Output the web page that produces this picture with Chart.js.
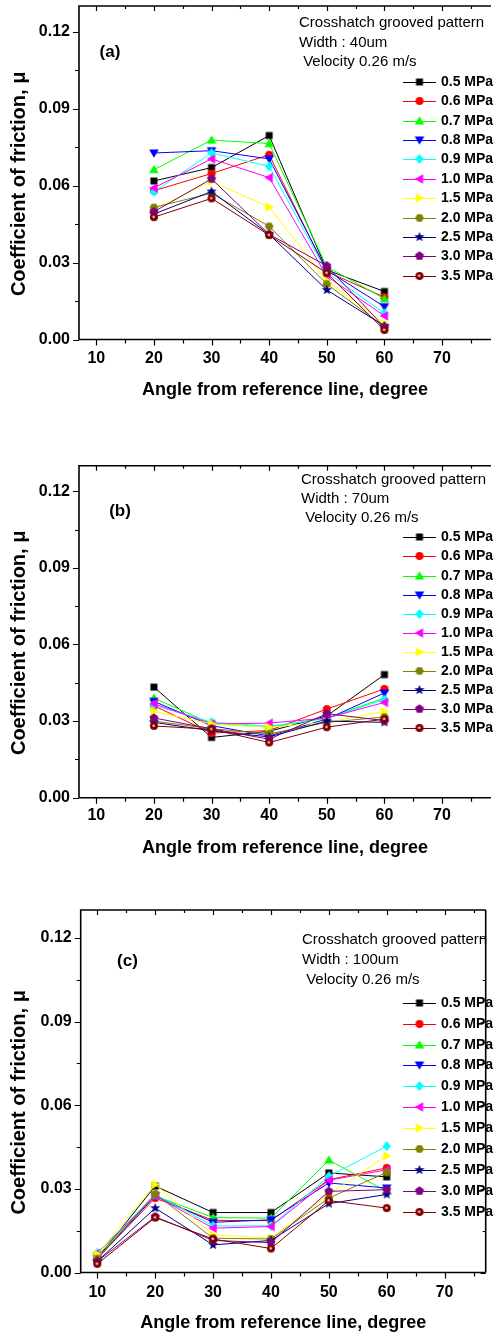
<!DOCTYPE html>
<html>
<head>
<meta charset="utf-8">
<script src="https://cdn.jsdelivr.net/npm/chart.js@4.4.0/dist/chart.umd.min.js"></script>
<style>
  html, body { margin: 0; padding: 0; background: #fff; }
  body { width: 496px; height: 1340px; position: relative; overflow: hidden; }
  canvas { position: absolute; left: 0; }
</style>
</head>
<body>
<canvas id="chartA"></canvas>
<canvas id="chartB"></canvas>
<canvas id="chartC"></canvas>
<script>
// x values, degree from reference line
var anglesAB = [20, 30, 40, 50, 60];
var anglesC  = [10, 20, 30, 40, 50, 60];

// labelled ticks
var xTicks = [10, 20, 30, 40, 50, 60, 70];
var yTicks = [0, 0.03, 0.06, 0.09, 0.12];

var pressures = ['0.5 MPa', '0.6 MPa', '0.7 MPa', '0.8 MPa', '0.9 MPa', '1.0 MPa',
                 '1.5 MPa', '2.0 MPa', '2.5 MPa', '3.0 MPa', '3.5 MPa'];
var colors = ['#000000', '#ff0000', '#00ff00', '#0000ff', '#00ffff', '#ff00ff',
              '#ffff00', '#808000', '#000080', '#800080', '#800000'];
var shapes = ['square', 'circle', 'up', 'down', 'diamond', 'left',
              'right', 'hexagon', 'star', 'pentagon', 'ball'];

// coefficient of friction, one row per pressure (same order as above)
// (a) width 40um
var muA = [
  [0.0618, 0.0670, 0.0795, 0.0271, 0.0187],
  [0.0580, 0.0647, 0.0720, 0.0265, 0.0165],
  [0.0662, 0.0777, 0.0764, 0.0284, 0.0159],
  [0.0727, 0.0736, 0.0704, 0.0270, 0.0128],
  [0.0576, 0.0727, 0.0675, 0.0262, 0.0102],
  [0.0591, 0.0704, 0.0631, 0.0247, 0.0092],
  [0.0507, 0.0617, 0.0516, 0.0230, 0.0063],
  [0.0515, 0.0570, 0.0441, 0.0216, 0.0050],
  [0.0489, 0.0577, 0.0410, 0.0193, 0.0053],
  [0.0498, 0.0626, 0.0410, 0.0287, 0.0048],
  [0.0477, 0.0550, 0.0407, 0.0259, 0.0037]
];
// (b) width 70um
var muB = [
  [0.0433, 0.0236, 0.0260, 0.0320, 0.0482],
  [0.0360, 0.0253, 0.0263, 0.0347, 0.0426],
  [0.0390, 0.0290, 0.0277, 0.0312, 0.0390],
  [0.0377, 0.0282, 0.0242, 0.0308, 0.0410],
  [0.0362, 0.0296, 0.0280, 0.0310, 0.0384],
  [0.0368, 0.0289, 0.0292, 0.0312, 0.0373],
  [0.0338, 0.0289, 0.0276, 0.0295, 0.0338],
  [0.0300, 0.0270, 0.0250, 0.0295, 0.0316],
  [0.0295, 0.0262, 0.0238, 0.0300, 0.0295],
  [0.0312, 0.0270, 0.0229, 0.0329, 0.0302],
  [0.0281, 0.0268, 0.0216, 0.0276, 0.0308]
];
// (c) width 100um
var muC = [
  [0.0050, 0.0310, 0.0215, 0.0215, 0.0357, 0.0343],
  [0.0050, 0.0267, 0.0187, 0.0186, 0.0333, 0.0375],
  [0.0060, 0.0275, 0.0197, 0.0195, 0.0403, 0.0291],
  [0.0050, 0.0275, 0.0180, 0.0189, 0.0321, 0.0303],
  [0.0071, 0.0280, 0.0167, 0.0167, 0.0345, 0.0453],
  [0.0069, 0.0275, 0.0159, 0.0165, 0.0331, 0.0368],
  [0.0065, 0.0316, 0.0135, 0.0123, 0.0279, 0.0419],
  [0.0050, 0.0282, 0.0123, 0.0120, 0.0267, 0.0359],
  [0.0040, 0.0231, 0.0099, 0.0115, 0.0247, 0.0280],
  [0.0040, 0.0200, 0.0115, 0.0107, 0.0291, 0.0297],
  [0.0031, 0.0197, 0.0120, 0.0086, 0.0258, 0.0231]
];

var FONT = "'Liberation Sans', Arial, Helvetica, sans-serif";
Chart.defaults.font.family = FONT;
Chart.defaults.color = '#000';

// Origin style symbols as small canvases, used as pointStyle
function markerImage(shape, color) {
  var c = document.createElement('canvas');
  c.width = 12; c.height = 12;
  var g = c.getContext('2d');
  g.translate(6, 6);
  g.fillStyle = color;
  g.beginPath();
  function poly(pts) {
    pts.forEach(function (pt, k) { k ? g.lineTo(pt[0], pt[1]) : g.moveTo(pt[0], pt[1]); });
    g.closePath();
  }
  function ngon(n, r, a0) {
    var pts = [];
    for (var k = 0; k < n; k++) {
      var t = a0 + k * 2 * Math.PI / n;
      pts.push([r * Math.cos(t), r * Math.sin(t)]);
    }
    poly(pts);
  }
  if (shape === 'square') g.rect(-3.5, -3.5, 7, 7);
  else if (shape === 'circle' || shape === 'ball') g.arc(0, 0, 4, 0, 2 * Math.PI);
  else if (shape === 'up') poly([[0, -4.8], [4.8, 3.6], [-4.8, 3.6]]);
  else if (shape === 'down') poly([[0, 4.8], [4.8, -3.6], [-4.8, -3.6]]);
  else if (shape === 'left') poly([[-4.8, 0], [3.6, -4.8], [3.6, 4.8]]);
  else if (shape === 'right') poly([[4.8, 0], [-3.6, -4.8], [-3.6, 4.8]]);
  else if (shape === 'diamond') poly([[0, -5], [4.3, 0], [0, 5], [-4.3, 0]]);
  else if (shape === 'hexagon') ngon(6, 4.4, 0);
  else if (shape === 'pentagon') ngon(5, 4.7, -Math.PI / 2);
  else if (shape === 'star') {
    var pts = [];
    for (var k = 0; k < 10; k++) {
      var r = k % 2 ? 2.2 : 5.3, t = -Math.PI / 2 + k * Math.PI / 5;
      pts.push([r * Math.cos(t), r * Math.sin(t)]);
    }
    poly(pts);
  }
  g.fill();
  if (shape === 'ball') {
    g.fillStyle = '#f0c8c8';
    g.beginPath();
    g.arc(-0.3, -0.3, 1.3, 0, 2 * Math.PI);
    g.fill();
  }
  return c;
}

var panels = [
  { canvas: 'chartA', tag: '(a)', width: 'Width : 40um', xs: anglesAB, mu: muA,
    top: 0, height: 407, plotTop: 6, plotBottom: 339.5, left: 79, right: 496,
    xMin: 7, xMax: 78.5, box: false, tickPad: 9,
    tagX: 110, tagY: 52, notesX: 299, notesY: [23.3, 43.3, 62.3], legendY: 81.7, legendStep: 19.4 },
  { canvas: 'chartB', tag: '(b)', width: 'Width : 70um', xs: anglesAB, mu: muB,
    top: 460, height: 405, plotTop: 465.7, plotBottom: 797.7, left: 79, right: 496,
    xMin: 7, xMax: 78.5, box: false, tickPad: 8.5,
    tagX: 120, tagY: 511.5, notesX: 301, notesY: [480, 499.3, 517.7], legendY: 537.3, legendStep: 19.1 },
  { canvas: 'chartC', tag: '(c)', width: 'Width : 100um', xs: anglesC, mu: muC,
    top: 904, height: 436, plotTop: 910, plotBottom: 1272.5, left: 80.7, right: 485.7,
    xMin: 7.13, xMax: 77.1, box: true, tickPad: 10.5,
    tagX: 127.5, tagY: 961, notesX: 302, notesY: [940, 960, 980], legendY: 1002.7, legendStep: 20.9 }
];

// frame, minor ticks, panel tag, notes and legend
function decor(p) {
  return {
    id: 'decor',
    afterDraw: function (chart) {
      var ctx = chart.ctx, a = chart.chartArea, xs = chart.scales.x, ys = chart.scales.y;
      var off = p.top;
      ctx.save();
      ctx.strokeStyle = '#000';
      ctx.lineWidth = 1.6;
      ctx.beginPath();
      ctx.moveTo(a.right, a.top); ctx.lineTo(a.left, a.top);
      ctx.lineTo(a.left, a.bottom); ctx.lineTo(a.right, a.bottom);
      if (p.box) { ctx.moveTo(a.right, a.top); ctx.lineTo(a.right, a.bottom); }
      ctx.stroke();

      ctx.lineWidth = 1.2;
      ctx.beginPath();
      for (var v = 10; v <= p.xMax; v += 5) {
        var px = Math.round(xs.getPixelForValue(v)) + 0.5;
        var major = v % 10 === 0;
        ctx.moveTo(px, a.bottom); ctx.lineTo(px, a.bottom + (major ? 6 : 4));
        ctx.moveTo(px, a.top); ctx.lineTo(px, a.top + (major ? 5 : 3));
      }
      for (var k = 0; k * 0.015 <= 0.13; k++) {
        var py = Math.round(ys.getPixelForValue(k * 0.015)) + 0.5;
        ctx.moveTo(a.left, py); ctx.lineTo(a.left - (k % 2 ? 4 : 6), py);
        if (p.box) { ctx.moveTo(a.right, py); ctx.lineTo(a.right - (k % 2 ? 3 : 5), py); }
      }
      ctx.stroke();

      ctx.fillStyle = '#000';
      ctx.textBaseline = 'middle';
      ctx.textAlign = 'center';
      ctx.font = 'bold 17px ' + FONT;
      ctx.fillText(p.tag, p.tagX, p.tagY - off);

      ctx.textAlign = 'left';
      ctx.font = '15px ' + FONT;
      var notes = ['Crosshatch grooved pattern', p.width, ' Velocity 0.26 m/s'];
      notes.forEach(function (t, i) { ctx.fillText(t, p.notesX, p.notesY[i] - off); });

      ctx.font = 'bold 14px ' + FONT;
      chart.data.datasets.forEach(function (ds, i) {
        var ly = Math.round(p.legendY + i * p.legendStep - off) + 0.5;
        ctx.strokeStyle = ds.borderColor;
        ctx.lineWidth = 1;
        ctx.beginPath(); ctx.moveTo(403, ly); ctx.lineTo(436, ly); ctx.stroke();
        ctx.drawImage(ds.pointStyle, 419.5 - 6, ly - 6.5);
        ctx.fillText(ds.label, 441, ly);
      });
      ctx.restore();
    }
  };
}

function drawPanel(p) {
  var cv = document.getElementById(p.canvas);
  cv.width = 496; cv.height = p.height;
  cv.style.top = p.top + 'px';
  var n = pressures.length;
  var xh = p.top + p.height - p.plotBottom;
  var datasets = p.mu.map(function (row, i) {
    return {
      label: pressures[i],
      data: row.map(function (v, j) { return { x: p.xs[j], y: v }; }),
      borderColor: colors[i],
      backgroundColor: colors[i],
      borderWidth: 1,
      pointStyle: markerImage(shapes[i], colors[i]),
      pointRadius: 4,
      order: n - i
    };
  });
  new Chart(cv, {
    type: 'line',
    data: { datasets: datasets },
    options: {
      responsive: false,
      animation: false,
      devicePixelRatio: 1,
      events: [],
      layout: { padding: { top: p.plotTop - p.top, right: 496 - p.right, left: 0, bottom: 0 } },
      plugins: { legend: { display: false }, tooltip: { enabled: false } },
      scales: {
        x: {
          type: 'linear', min: p.xMin, max: p.xMax,
          grid: { display: false, drawTicks: false },
          border: { display: false },
          ticks: { autoSkip: false, maxRotation: 0,
                   padding: p.tickPad, color: '#000', font: { size: 16, weight: 'bold' } },
          afterBuildTicks: function (s) {
            s.ticks = xTicks.map(function (v) { return { value: v }; });
          },
          title: { display: true, text: 'Angle from reference line, degree', color: '#000',
                   font: { size: 18, weight: 'bold' },
                   padding: { top: 0, bottom: xh - 50.5 - 10.8 } },
          afterFit: function (s) {
            s.height = xh;
            s.paddingLeft = s.paddingRight = s.paddingTop = s.paddingBottom = 0;
          }
        },
        y: {
          min: 0, max: 0.13,
          grid: { display: false, drawTicks: false },
          border: { display: false },
          ticks: { padding: 9, color: '#000',
                   font: { size: 16, weight: 'bold' },
                   callback: function (v) { return v.toFixed(2); } },
          afterBuildTicks: function (s) {
            s.ticks = yTicks.map(function (v) { return { value: v }; });
          },
          title: { display: true, text: 'Coefficient of friction, \u03bc    ', color: '#000',
                   font: { size: 20, weight: 'bold' }, padding: { top: 7, bottom: 0 } },
          afterFit: function (s) {
            s.width = p.left;
            s.paddingLeft = s.paddingRight = s.paddingTop = s.paddingBottom = 0;
          }
        }
      }
    },
    plugins: [decor(p)]
  });
}

panels.forEach(drawPanel);
</script>
</body>
</html>
